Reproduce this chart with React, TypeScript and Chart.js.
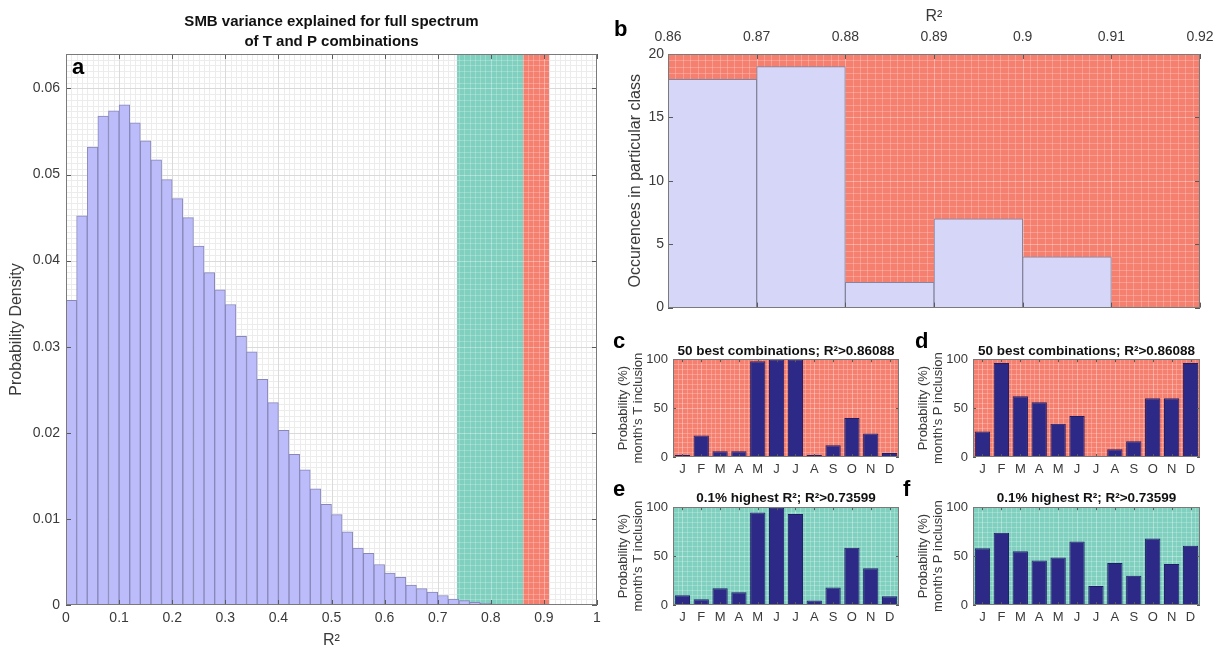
import React, { useEffect, useRef } from 'react';
import { Chart, registerables } from 'chart.js';

Chart.register(...registerables);

const FONT = '"Liberation Sans", Helvetica, Arial, sans-serif';
const TICK_COLOR = '#3a3a3a';

// ---------- Panel a: histogram of R² over all T/P combinations ----------
const binCentersA = [0.01, 0.03, 0.05, 0.07, 0.09, 0.11, 0.13, 0.15, 0.17, 0.19, 0.21, 0.23, 0.25, 0.27, 0.29, 0.31, 0.33, 0.35, 0.37, 0.39, 0.41, 0.43, 0.45, 0.47, 0.49, 0.51, 0.53, 0.55, 0.57, 0.59, 0.61, 0.63, 0.65, 0.67, 0.69, 0.71, 0.73, 0.75, 0.77, 0.79, 0.81, 0.83];
const densityA = [0.0354, 0.0452, 0.0532, 0.0568, 0.0574, 0.0581, 0.0560, 0.0539, 0.0517, 0.0494, 0.0472, 0.0450, 0.0417, 0.0386, 0.0366, 0.0349, 0.0312, 0.0294, 0.0262, 0.0235, 0.0203, 0.0175, 0.0157, 0.0135, 0.0117, 0.0105, 0.0085, 0.0066, 0.0060, 0.0047, 0.0037, 0.0032, 0.0023, 0.0019, 0.0015, 0.0011, 0.0007, 0.0005, 0.0003, 0.0002, 0.0001, 0.00005];
const ticksAX = [0, 0.1, 0.2, 0.3, 0.4, 0.5, 0.6, 0.7, 0.8, 0.9, 1];
const ticksAY = [0, 0.01, 0.02, 0.03, 0.04, 0.05, 0.06];
const thresholdTop01 = 0.73599;
const thresholdBest50 = 0.86088;
const maxR2 = 0.91;

// ---------- Panel b: 50 best combinations ----------
const classCentersB = [0.865, 0.875, 0.885, 0.895, 0.905];
const countsB = [18, 19, 2, 7, 4];
const ticksBX = [0.86, 0.87, 0.88, 0.89, 0.9, 0.91, 0.92];
const ticksBY = [0, 5, 10, 15, 20];

// ---------- Panels c-f: month inclusion probabilities ----------
const months = ['J', 'F', 'M', 'A', 'M', 'J', 'J', 'A', 'S', 'O', 'N', 'D'];
const tBest50 = [2, 22, 6, 6, 98, 100, 100, 2, 12, 40, 24, 4];
const pBest50 = [26, 96, 62, 56, 34, 42, 0, 8, 16, 60, 60, 96];
const tTop01 = [10, 6, 17, 13, 94.5, 99.5, 93, 4.5, 18, 58.5, 37.5, 9];
const pTop01 = [58, 74, 55, 45.5, 48.5, 65, 19.5, 43, 30, 68, 42, 60.5];
const ticksPct = [0, 50, 100];

const SALMON = '#f5806f';
const TEAL = '#80d0c0';
const NAVY = '#2d2a87';
const LAV_A = '#bcbcfa';
const LAV_B = '#d6d6f8';

function gridVals(g: any) {
  const out: number[] = [];
  const n = Math.round((g.max - g.min) / g.step);
  for (let i = 0; i <= n; i++) out.push(g.min + i * g.step);
  return out;
}
function inList(v: number, list: number[]) {
  return list.some((m) => Math.abs(m - v) < 1e-9);
}

const decorPlugin = {
  id: 'decor',
  beforeDatasetsDraw(chart: any, _a: any, o: any) {
    if (!o || !o.xGrid) return;
    const { ctx, chartArea: ca } = chart;
    const xs = chart.scales.x;
    const ys = chart.scales.y;
    const xv = gridVals(o.xGrid);
    const yv = gridVals(o.yGrid);
    const drawGrid = (minor: string, major: string) => {
      ctx.lineWidth = 1;
      for (const pass of [0, 1]) {
        ctx.strokeStyle = pass ? major : minor;
        ctx.beginPath();
        for (const v of xv) {
          if (inList(v, o.xMajor) !== !!pass) continue;
          const p = Math.round(xs.getPixelForValue(v)) + 0.5;
          ctx.moveTo(p, ca.top);
          ctx.lineTo(p, ca.bottom);
        }
        for (const v of yv) {
          if (inList(v, o.yMajor) !== !!pass) continue;
          const p = Math.round(ys.getPixelForValue(v)) + 0.5;
          ctx.moveTo(ca.left, p);
          ctx.lineTo(ca.right, p);
        }
        ctx.stroke();
      }
    };
    ctx.save();
    ctx.beginPath();
    ctx.rect(ca.left, ca.top, ca.width, ca.height);
    ctx.clip();
    drawGrid('#ececec', '#dadada');
    for (const b of o.bands || []) {
      const x0 = xs.getPixelForValue(b.from);
      const x1 = xs.getPixelForValue(b.to);
      ctx.save();
      ctx.beginPath();
      ctx.rect(x0, ca.top, x1 - x0, ca.height);
      ctx.clip();
      ctx.fillStyle = b.color;
      ctx.fillRect(x0, ca.top, x1 - x0, ca.height);
      drawGrid('rgba(255,255,255,0.22)', 'rgba(255,255,255,0.35)');
      ctx.restore();
    }
    ctx.restore();
  },
  afterDraw(chart: any, _a: any, o: any) {
    if (!o || !o.xGrid) return;
    const { ctx, chartArea: ca } = chart;
    const xs = chart.scales.x;
    const ys = chart.scales.y;
    ctx.save();
    ctx.strokeStyle = '#5a5a5a';
    ctx.lineWidth = 1;
    ctx.beginPath();
    const tl = o.tickLen || 4;
    for (const v of o.xMajor) {
      const p = Math.round(xs.getPixelForValue(v)) + 0.5;
      ctx.moveTo(p, ca.bottom);
      ctx.lineTo(p, ca.bottom - tl);
      ctx.moveTo(p, ca.top);
      ctx.lineTo(p, ca.top + tl);
    }
    for (const v of o.yMajor) {
      const p = Math.round(ys.getPixelForValue(v)) + 0.5;
      ctx.moveTo(ca.left, p);
      ctx.lineTo(ca.left + tl, p);
      ctx.moveTo(ca.right, p);
      ctx.lineTo(ca.right - tl, p);
    }
    ctx.stroke();
    ctx.strokeStyle = '#7a7a7a';
    ctx.strokeRect(Math.round(ca.left) + 0.5, Math.round(ca.top) + 0.5, Math.round(ca.width) - 1, Math.round(ca.height) - 1);
    if (o.letter) {
      ctx.fillStyle = '#000';
      ctx.font = `bold 22px ${FONT}`;
      ctx.textAlign = 'left';
      ctx.textBaseline = 'middle';
      ctx.fillText(o.letter, o.letterPos[0], o.letterPos[1]);
    }
    ctx.restore();
  },
};

const tickFont = (size: number) => ({ family: FONT, size });
const fixedTicks = (list: number[]) => (s: any) => {
  s.ticks = list.map((value) => ({ value }));
};

function baseOptions(padding: any) {
  return {
    responsive: false,
    maintainAspectRatio: false,
    animation: false,
    devicePixelRatio: 1,
    layout: { padding },
    events: [],
  } as any;
}

function makeA() {
  return {
    type: 'bar',
    data: {
      datasets: [
        {
          data: binCentersA.map((x, i) => ({ x, y: densityA[i] })),
          backgroundColor: LAV_A,
          borderColor: '#8787b8',
          borderWidth: 1,
          borderSkipped: false,
          barPercentage: 1,
          categoryPercentage: 1,
        },
      ],
    },
    options: {
      ...baseOptions({ left: 0, right: 13, top: 0, bottom: 0 }),
      plugins: {
        legend: { display: false },
        tooltip: { enabled: false },
        title: {
          display: true,
          fullSize: false,
          text: ['SMB variance explained for full spectrum', 'of T and P combinations'],
          color: '#111',
          font: { family: FONT, size: 15, weight: 'bold', lineHeight: 1.333 },
          padding: { top: 12, bottom: 2 },
        },
        decor: {
          xGrid: { min: 0, max: 1, step: 0.01 },
          yGrid: { min: 0, max: 0.064, step: 0.01 / 15 },
          xMajor: ticksAX,
          yMajor: ticksAY,
          bands: [
            { from: thresholdTop01, to: thresholdBest50, color: TEAL },
            { from: thresholdBest50, to: maxR2, color: SALMON },
          ],
          letter: 'a',
          letterPos: [72, 68],
          tickLen: 5,
        },
      },
      scales: {
        x: {
          type: 'linear',
          min: 0,
          max: 1,
          offset: false,
          grid: { display: false, drawTicks: false },
          border: { display: false },
          afterBuildTicks: fixedTicks(ticksAX),
          ticks: { autoSkip: false, maxRotation: 0, padding: 5, color: TICK_COLOR, font: tickFont(14), callback: (v: any) => String(v) },
          title: { display: true, text: 'R²', color: TICK_COLOR, font: { family: FONT, size: 16 }, padding: { top: 0, bottom: 3 } },
          afterFit: (s: any) => { s.height = 48; },
        },
        y: {
          type: 'linear',
          min: 0,
          max: 0.064,
          grid: { display: false, drawTicks: false },
          border: { display: false },
          afterBuildTicks: fixedTicks(ticksAY),
          ticks: { autoSkip: false, padding: 6, color: TICK_COLOR, font: tickFont(14), callback: (v: any) => String(v) },
          title: { display: true, text: 'Probability Density', color: TICK_COLOR, font: { family: FONT, size: 16 }, padding: { top: 7, bottom: 0 } },
          afterFit: (s: any) => { s.width = 66; },
        },
      },
    },
    plugins: [decorPlugin],
  } as any;
}

function makeB() {
  return {
    type: 'bar',
    data: {
      datasets: [
        {
          data: classCentersB.map((x, i) => ({ x, y: countsB[i] })),
          backgroundColor: LAV_B,
          borderColor: '#85859f',
          borderWidth: 1,
          borderSkipped: false,
          barPercentage: 1,
          categoryPercentage: 1,
        },
      ],
    },
    options: {
      ...baseOptions({ left: 0, right: 22, top: 0, bottom: 11 }),
      plugins: {
        legend: { display: false },
        tooltip: { enabled: false },
        decor: {
          xGrid: { min: 0.86, max: 0.92, step: 0.01 / 12 },
          yGrid: { min: 0, max: 20, step: 0.5 },
          xMajor: ticksBX,
          yMajor: ticksBY,
          bands: [{ from: 0.86, to: 0.92, color: SALMON }],
          letter: 'b',
          letterPos: [14, 30],
          tickLen: 5,
        },
      },
      scales: {
        x: {
          type: 'linear',
          position: 'top',
          min: 0.86,
          max: 0.92,
          offset: false,
          grid: { display: false, drawTicks: false },
          border: { display: false },
          afterBuildTicks: fixedTicks(ticksBX),
          ticks: { autoSkip: false, maxRotation: 0, padding: 8, color: TICK_COLOR, font: tickFont(14), callback: (v: any) => String(v) },
          title: { display: true, text: 'R²', color: TICK_COLOR, font: { family: FONT, size: 16 }, padding: { top: 7, bottom: 0 } },
          afterFit: (s: any) => { s.height = 54; },
        },
        y: {
          type: 'linear',
          min: 0,
          max: 20,
          grid: { display: false, drawTicks: false },
          border: { display: false },
          afterBuildTicks: fixedTicks(ticksBY),
          ticks: { autoSkip: false, padding: 4, color: TICK_COLOR, font: tickFont(14), callback: (v: any) => String(v) },
          title: { display: true, text: 'Occurences in particular class', color: TICK_COLOR, font: { family: FONT, size: 16 }, padding: { top: 26, bottom: 0 } },
          afterFit: (s: any) => { s.width = 68; },
        },
      },
    },
    plugins: [decorPlugin],
  } as any;
}

function makeMonthPanel(values: number[], title: string, yLines: string[], band: string, letter: string, letterPos: number[], topArea: boolean, rightPad: number) {
  return {
    type: 'bar',
    data: {
      labels: months,
      datasets: [
        {
          data: values,
          backgroundColor: NAVY,
          borderColor: '#1f1d63',
          borderWidth: 1,
          borderSkipped: 'start',
          barPercentage: 0.81,
          categoryPercentage: 1,
        },
      ],
    },
    options: {
      ...baseOptions({ left: 0, right: rightPad, top: 0, bottom: 0 }),
      plugins: {
        legend: { display: false },
        tooltip: { enabled: false },
        title: {
          display: true,
          fullSize: false,
          text: title,
          color: '#111',
          font: { family: FONT, size: 13.5, weight: 'bold', lineHeight: 1.2 },
          padding: topArea ? { top: 23, bottom: 0 } : { top: 10, bottom: 1 },
        },
        decor: {
          xGrid: { min: -0.5, max: 11.5, step: 0.25 },
          yGrid: { min: 0, max: 100, step: 5 },
          xMajor: months.map((_, i) => i),
          yMajor: ticksPct,
          bands: [{ from: -0.5, to: 11.5, color: band }],
          letter,
          letterPos,
          tickLen: 3,
        },
      },
      scales: {
        x: {
          type: 'category',
          grid: { display: false, drawTicks: false },
          border: { display: false },
          ticks: { autoSkip: false, maxRotation: 0, padding: 5, color: TICK_COLOR, font: tickFont(13) },
          afterFit: (s: any) => { s.height = topArea ? 23 : 48; },
        },
        y: {
          type: 'linear',
          min: 0,
          max: 100,
          grid: { display: false, drawTicks: false },
          border: { display: false },
          afterBuildTicks: fixedTicks(ticksPct),
          ticks: { autoSkip: false, padding: 5, color: TICK_COLOR, font: tickFont(13), callback: (v: any) => String(v) },
          title: { display: true, text: yLines, color: TICK_COLOR, font: { family: FONT, size: 13, lineHeight: 1.15 }, padding: { top: 15.5, bottom: 0 } },
          afterFit: (s: any) => { s.width = 73; },
        },
      },
    },
    plugins: [decorPlugin],
  } as any;
}

function Panel({ left, top, width, height, make }: any) {
  const ref = useRef<HTMLCanvasElement>(null);
  useEffect(() => {
    const chart = new Chart(ref.current as HTMLCanvasElement, make());
    return () => chart.destroy();
  }, []);
  return (
    <canvas
      ref={ref}
      width={width}
      height={height}
      style={{ position: 'absolute', left, top, width, height, display: 'block' }}
    />
  );
}

export default function App() {
  const titleBest = '50 best combinations; R²>0.86088';
  const titleTop = '0.1% highest R²; R²>0.73599';
  return (
    <div style={{ position: 'absolute', left: 0, top: 0, width: 1222, height: 653, background: '#fff', overflow: 'hidden' }}>
      <Panel left={0} top={0} width={610} height={653} make={makeA} />
      <Panel left={600} top={0} width={622} height={320} make={makeB} />
      <Panel left={600} top={320} width={310} height={160}
        make={() => makeMonthPanel(tBest50, titleBest, ['Probability (%)', "month's T inclusion"], SALMON, 'c', [13, 22], true, 11)} />
      <Panel left={900} top={320} width={322} height={160}
        make={() => makeMonthPanel(pBest50, titleBest, ['Probability (%)', "month's P inclusion"], SALMON, 'd', [15, 22], true, 22)} />
      <Panel left={600} top={480} width={310} height={173}
        make={() => makeMonthPanel(tTop01, titleTop, ['Probability (%)', "month's T inclusion"], TEAL, 'e', [13, 10], false, 11)} />
      <Panel left={900} top={480} width={322} height={173}
        make={() => makeMonthPanel(pTop01, titleTop, ['Probability (%)', "month's P inclusion"], TEAL, 'f', [3, 10], false, 22)} />
    </div>
  );
}
